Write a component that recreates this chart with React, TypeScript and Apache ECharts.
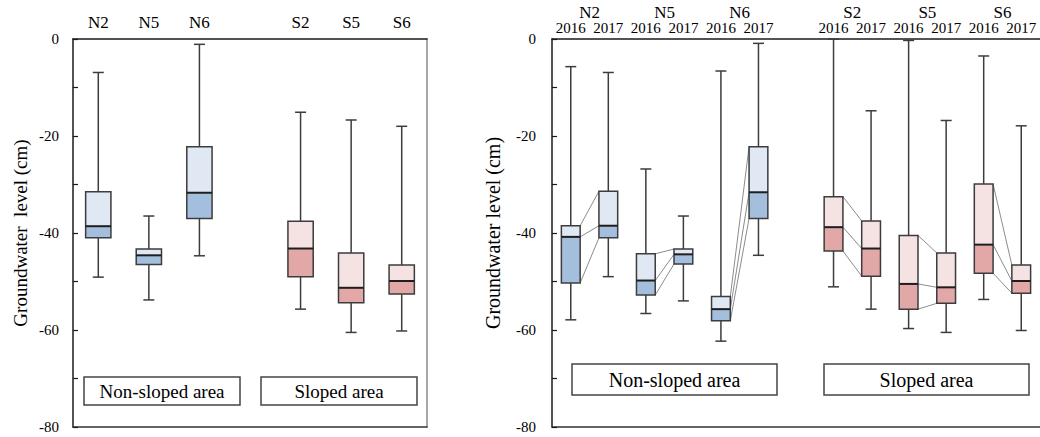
import React, { useEffect, useRef } from 'react';
import * as echarts from 'echarts';

// ---------- data ----------
const sites = ['N2', 'N5', 'N6', 'S2', 'S5', 'S6'];
const siteArea = ['non', 'non', 'non', 'sloped', 'sloped', 'sloped'];
const leftCategories = ['N2', 'N5', 'N6', '', 'S2', 'S5', 'S6'];
const years = ['2016', '2017'];
const yTicks = [0, -20, -40, -60, -80];

// [lower whisker, Q1, median, Q3, upper whisker]
const statsLeft2017 = [
  [-49.1, -41.0, -38.6, -31.5, -6.9],
  [-53.8, -46.5, -44.6, -43.3, -36.5],
  [-44.7, -37.0, -31.7, -22.2, -1.1],
  [-55.7, -49.0, -43.2, -37.6, -15.1],
  [-60.5, -54.4, -51.3, -44.1, -16.7],
  [-60.2, -52.6, -49.9, -46.6, -18.0],
];
const statsRight2016 = [
  [-57.9, -50.3, -40.8, -38.5, -5.7],
  [-56.6, -52.8, -49.8, -44.3, -26.8],
  [-62.3, -58.1, -55.7, -53.1, -6.6],
  [-51.1, -43.7, -38.8, -32.5, 0],
  [-59.7, -55.7, -50.5, -40.5, -0.3],
  [-53.7, -48.3, -42.4, -29.9, -3.5],
];
const statsRight2017 = [
  [-49.0, -41.0, -38.5, -31.4, -6.9],
  [-54.0, -46.4, -44.4, -43.3, -36.5],
  [-44.6, -37.0, -31.6, -22.2, -0.9],
  [-55.7, -48.9, -43.2, -37.5, -14.8],
  [-60.5, -54.5, -51.2, -44.1, -16.8],
  [-60.1, -52.4, -49.9, -46.6, -17.9],
];

// right panel categories: year pairs per site, one spacer between areas
const rightCategories: string[] = [];
const rightIndex2016: number[] = [];
leftCategories.forEach((c) => {
  if (c === '') {
    rightCategories.push('');
  } else {
    rightIndex2016.push(rightCategories.length);
    years.forEach((y) => rightCategories.push(y));
  }
});

// ---------- styles ----------
const FONT = 'Liberation Serif';
const COLORS: Record<string, { light: string; dark: string }> = {
  non: { light: '#dfe8f3', dark: '#a3bfdd' },
  sloped: { light: '#f5e2e2', dark: '#e2a7a7' },
};
const STROKE = '#3c3c3c';

function ln(x1: number, y1: number, x2: number, y2: number, stroke = STROKE, lw = 1.5) {
  return { type: 'line', shape: { x1, y1, x2, y2 }, style: { stroke, lineWidth: lw } };
}

function boxEls(api: any, xIdx: number, st: number[], area: string) {
  const [lo, q1, med, q3, hi] = st;
  const bw = api.size([1, 0])[0] * 0.5;
  const cx = api.coord([xIdx, med])[0];
  const y = (v: number) => api.coord([xIdx, v])[1];
  const cap = 11;
  const c = COLORS[area];
  return [
    ln(cx, y(hi), cx, y(q3)),
    ln(cx, y(q1), cx, y(lo)),
    ln(cx - cap / 2, y(hi), cx + cap / 2, y(hi)),
    ln(cx - cap / 2, y(lo), cx + cap / 2, y(lo)),
    { type: 'rect', shape: { x: cx - bw / 2, y: y(q3), width: bw, height: y(med) - y(q3) }, style: { fill: c.light } },
    { type: 'rect', shape: { x: cx - bw / 2, y: y(med), width: bw, height: y(q1) - y(med) }, style: { fill: c.dark } },
    { type: 'rect', shape: { x: cx - bw / 2, y: y(q3), width: bw, height: y(q1) - y(q3) }, style: { fill: 'none', stroke: STROKE, lineWidth: 1.5 } },
    ln(cx - bw / 2, y(med), cx + bw / 2, y(med), '#1e1e1e', 2),
  ];
}

const leftData = sites.map((s, i) => [leftCategories.indexOf(s), ...statsLeft2017[i], i]);
const rightData: number[][] = [];
sites.forEach((s, i) => {
  rightData.push([rightIndex2016[i], ...statsRight2016[i], i, 0]);
  rightData.push([rightIndex2016[i] + 1, ...statsRight2017[i], i, 1]);
});

function renderLeft(params: any, api: any) {
  const d = leftData[params.dataIndex];
  const i = d[6];
  return { type: 'group', children: boxEls(api, d[0], statsLeft2017[i], siteArea[i]) };
}

function renderRight(params: any, api: any) {
  const d = rightData[params.dataIndex];
  const i = d[6];
  const yr = d[7];
  const st = yr === 0 ? statsRight2016[i] : statsRight2017[i];
  const children: any[] = [];
  if (yr === 0) {
    const x1 = d[0];
    const x2 = d[0] + 1;
    const bw = api.size([1, 0])[0] * 0.5;
    const nxt = statsRight2017[i];
    [3, 2, 1].forEach((k) => {
      const p1 = api.coord([x1, st[k]]);
      const p2 = api.coord([x2, nxt[k]]);
      children.push(ln(p1[0] + bw / 2, p1[1], p2[0] - bw / 2, p2[1], '#8c8c8c', 1));
    });
    const top = api.coord([x1, 0]);
    const top2 = api.coord([x2, 0]);
    children.push({
      type: 'text',
      x: (top[0] + top2[0]) / 2,
      y: top[1] - 27,
      style: { text: sites[i], fontSize: 17, fontFamily: FONT, fill: '#000', align: 'center', verticalAlign: 'middle' },
    });
  }
  children.push(...boxEls(api, d[0], st, siteArea[i]));
  return { type: 'group', children };
}

function yAxisCfg(gridIndex: number, name: string, nameGap: number, nameSize: number, margin: number) {
  return {
    type: 'value',
    gridIndex,
    position: 'left',
    min: -80,
    max: 0,
    interval: 20,
    name,
    nameLocation: 'middle',
    nameGap,
    nameTextStyle: { fontSize: nameSize, fontFamily: FONT, color: '#000' },
    axisLine: { show: true, lineStyle: { color: '#1a1a1a', width: 1.5 } },
    axisTick: { show: true, inside: true, length: 5, lineStyle: { color: '#1a1a1a', width: 1.2 } },
    minorTick: { show: true, splitNumber: 2, length: 5, lineStyle: { color: '#1a1a1a', width: 1.2 } },
    splitLine: { show: false },
    axisLabel: {
      fontSize: 15,
      fontFamily: FONT,
      color: '#000',
      margin,
      formatter: (v: number) => (yTicks.includes(v) ? String(v) : ''),
    },
  };
}

function catAxis(gridIndex: number, data: string[], position: string, label: any) {
  return {
    type: 'category',
    gridIndex,
    position,
    data,
    boundaryGap: true,
    axisLine: { show: true, onZero: false, lineStyle: { color: position === 'top' ? '#1a1a1a' : '#333', width: 1.5 } },
    axisTick: { show: false },
    splitLine: { show: false },
    axisLabel: label,
  };
}

export default function App() {
  const ref = useRef<HTMLDivElement>(null);
  useEffect(() => {
    document.body.style.margin = '0';
    const chart = echarts.init(ref.current!, null, { renderer: 'svg' });
    const annot = (x: number, y: number, w: number, h: number, text: string, fs: number) => [
      { type: 'rect', shape: { x, y, width: w, height: h }, style: { fill: '#fff', stroke: '#444', lineWidth: 1.5 }, z: 10 },
      {
        type: 'text',
        x: x + w / 2,
        y: y + h / 2,
        style: { text, fontSize: fs, fontFamily: FONT, fill: '#000', align: 'center', verticalAlign: 'middle' },
        z: 11,
      },
    ];
    chart.setOption({
      animation: false,
      textStyle: { fontFamily: FONT },
      grid: [
        { left: 73, top: 39, width: 354, height: 388 },
        { left: 552, top: 39, width: 498, height: 388 },
      ],
      xAxis: [
        catAxis(0, leftCategories, 'bottom', { show: false }),
        catAxis(0, leftCategories, 'top', { show: true, fontSize: 17, fontFamily: FONT, color: '#000', margin: 8, interval: 0 }),
        catAxis(1, rightCategories, 'bottom', { show: false }),
        catAxis(1, rightCategories, 'top', { show: true, fontSize: 15, fontFamily: FONT, color: '#000', margin: 4, interval: 0 }),
      ],
      yAxis: [
        yAxisCfg(0, 'Groundwater  level (cm)', 43, 19, 14),
        {
          type: 'value',
          gridIndex: 0,
          position: 'right',
          min: -80,
          max: 0,
          interval: 20,
          axisLine: { show: true, lineStyle: { color: '#8a8a8a', width: 1.5 } },
          axisTick: { show: false },
          axisLabel: { show: false },
          splitLine: { show: false },
        },
        yAxisCfg(1, 'Groundwater level (cm)', 49, 20, 16),
      ],
      series: [
        { type: 'custom', xAxisIndex: 0, yAxisIndex: 0, data: leftData, renderItem: renderLeft, clip: false, silent: true },
        { type: 'custom', xAxisIndex: 2, yAxisIndex: 2, data: rightData, renderItem: renderRight, clip: false, silent: true },
      ],
      graphic: [
        ...annot(84, 377, 156, 28, 'Non-sloped area', 19),
        ...annot(261, 377, 156, 28, 'Sloped area', 19),
        ...annot(572, 364, 205, 31, 'Non-sloped area', 20),
        ...annot(824, 364, 205, 31, 'Sloped area', 20),
      ],
    });
    return () => chart.dispose();
  }, []);
  return <div ref={ref} style={{ width: 1040, height: 437 }} />;
}
